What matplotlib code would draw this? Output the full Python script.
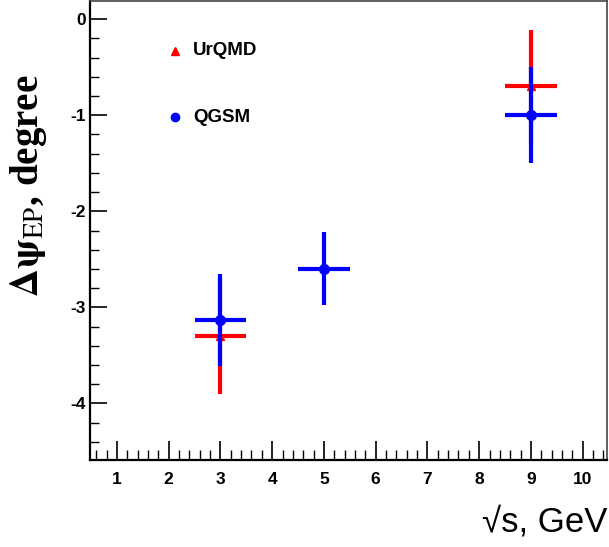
import matplotlib
matplotlib.use('Agg')
import matplotlib.pyplot as plt
from matplotlib.ticker import MultipleLocator

plt.rcParams['mathtext.fontset'] = 'stix'
plt.rcParams['axes.unicode_minus'] = False

# UrQMD points (red triangles)
urqmd_x = [3, 9]
urqmd_y = [-3.3, -0.70]
urqmd_xerr = [0.5, 0.5]
urqmd_yerr = [0.6, 0.59]

# QGSM points (blue circles)
qgsm_x = [3, 5, 9]
qgsm_y = [-3.13, -2.60, -1.0]
qgsm_xerr = [0.5, 0.5, 0.5]
qgsm_yerr = [0.48, 0.38, 0.5]

xticks = [1, 2, 3, 4, 5, 6, 7, 8, 9, 10]
yticks = [0, -1, -2, -3, -4]

fig = plt.figure(figsize=(6.09, 5.47), dpi=100)
ax = fig.add_axes([90 / 609, 87 / 547, 517 / 609, 459 / 547])

ax.errorbar(urqmd_x, urqmd_y, xerr=urqmd_xerr, yerr=urqmd_yerr, fmt='^',
            color='#ff0000', ms=6, elinewidth=3, capsize=0, zorder=2)
ax.errorbar(qgsm_x, qgsm_y, xerr=qgsm_xerr, yerr=qgsm_yerr, fmt='o',
            color='#0000ff', ms=7, elinewidth=3, capsize=0, zorder=3)

ax.set_xlim(0.48, 10.47)
ax.set_ylim(-4.59, 0.19)
ax.set_xticks(xticks)
ax.set_yticks(yticks)
ax.xaxis.set_minor_locator(MultipleLocator(0.2))
ax.yaxis.set_minor_locator(MultipleLocator(0.2))

ax.tick_params(axis='x', which='major', direction='in', length=14, width=1.2,
               pad=9, top=False)
ax.tick_params(axis='x', which='minor', direction='in', length=7, width=1.0,
               top=False)
ax.tick_params(axis='y', which='major', direction='in', length=12, width=1.2,
               pad=3, right=False)
ax.tick_params(axis='y', which='minor', direction='in', length=6.5, width=1.0,
               right=False)
for lab in ax.get_xticklabels() + ax.get_yticklabels():
    lab.set_family('Liberation Sans')
    lab.set_weight('bold')
    lab.set_fontsize(12.5)

for s in ['left', 'bottom']:
    ax.spines[s].set_linewidth(1.6)
    ax.spines[s].set_color('black')
for s in ['top', 'right']:
    ax.spines[s].set_linewidth(1.2)
    ax.spines[s].set_color('#444444')

# legend drawn as markers + text
ax.plot([2.12], [-0.33], marker='^', color='#ff0000', ms=6, ls='none')
ax.text(2.47, -0.33, 'UrQMD', family='Liberation Sans', weight='bold',
        fontsize=13.5, va='center', ha='left')
ax.plot([2.12], [-1.02], marker='o', color='#0000ff', ms=6, ls='none')
ax.text(2.47, -1.02, 'QGSM', family='Liberation Sans', weight='bold',
        fontsize=13.5, va='center', ha='left')

fig.text(29 / 609, 1 - 186 / 547, r'$\mathbf{\Delta\psi}_{\mathrm{EP}}$, degree',
         rotation=90, ha='center', va='center', fontsize=28,
         family='Liberation Serif', weight='bold')
fig.text(607 / 609, 1 - 522 / 547, '\u221as, GeV', ha='right',
         va='center', fontsize=25, family='Liberation Sans')

fig.savefig('out.png', dpi=100)
